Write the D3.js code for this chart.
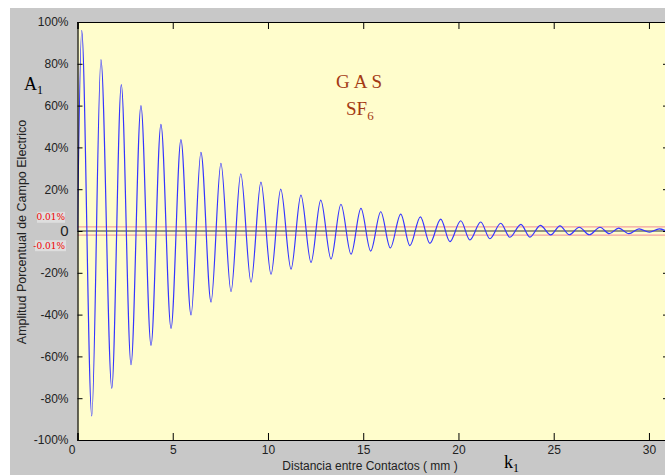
<!DOCTYPE html>
<html>
<head>
<meta charset="utf-8">
<script src="https://cdn.jsdelivr.net/npm/d3@7/dist/d3.min.js"></script>
<style>
  html, body { margin: 0; padding: 0; background: #ffffff; }
  svg { display: block; }
</style>
</head>
<body>
<svg id="chart" width="665" height="475"></svg>
<script>
// Successive crests and troughs of the field amplitude along the gap (mm, %)
const extremaMm = [0, 0.22, 0.75, 1.23, 1.80, 2.30, 2.81, 3.33, 3.86, 4.38, 4.91,
  5.43, 5.96, 6.48, 7.01, 7.53, 8.06, 8.57, 9.11, 9.63, 10.16,
  10.67, 11.21, 11.73, 12.26, 12.77, 13.31, 13.83, 14.36, 14.88, 15.39,
  15.92, 16.42, 16.97, 17.45, 18.00, 18.50, 19.07, 19.55, 20.12, 20.60,
  21.17, 21.65, 22.22, 22.70, 23.28, 23.75, 24.30, 24.84, 25.33, 25.82,
  26.34, 26.87, 27.43, 27.92, 28.41, 28.95, 29.48, 30.02, 30.54, 31.05];
const extremaPct = [0, 96, -88.5, 82, -75.3, 70, -64, 60, -54.7, 51, -46.6,
  43.7, -40.2, 37.6, -34, 32.4, -29, 27.4, -24.5, 23.4, -20.7,
  20, -18.2, 17.2, -15, 14.8, -13.4, 12.8, -11.1, 10.8, -9.6,
  9.2, -8.1, 8.1, -7, 6.8, -5.9, 5.7, -5.1, 4.9, -4.3,
  4.3, -3.7, 3.7, -3.0, 3.2, -2.9, 2.7, -1.9, 2.5, -1.8,
  1.8, -1.8, 1.8, -1.3, 1.4, -1.3, 1.0, -0.6, 1.0, -0.6];

// Axis ticks and labels
const xTicks = [0, 5, 10, 15, 20, 25, 30];
const yTicks = [100, 80, 60, 40, 20, 0, -20, -40, -60, -80, -100];
const yTickLabels = ["100%", "80%", "60%", "40%", "20%", "0", "-20%", "-40%", "-60%", "-80%", "-100%"];

// Tolerance band drawn around zero
const bandPct = [2, -2];
const bandLabels = ["0.01%", "-0.01%"];

const svg = d3.select("#chart");
const W = 665, H = 475;
const plot = { left: 77.5, top: 22, right: 668, bottom: 440 };

// Window background
svg.append("rect").attr("x", 10).attr("y", 8).attr("width", W - 10).attr("height", H - 8)
  .attr("fill", "#c8c8c8");

const x = d3.scaleLinear().domain([0, 31]).range([plot.left, plot.right]);
const y = d3.scaleLinear().domain([-100, 100]).range([plot.bottom, plot.top]);

svg.append("defs").append("clipPath").attr("id", "plotClip")
  .append("rect").attr("x", plot.left).attr("y", plot.top)
  .attr("width", plot.right - plot.left).attr("height", plot.bottom - plot.top);

// Plot area
svg.append("rect").attr("x", plot.left).attr("y", plot.top)
  .attr("width", plot.right - plot.left).attr("height", plot.bottom - plot.top)
  .attr("fill", "#fffdcc");

const inner = svg.append("g").attr("clip-path", "url(#plotClip)");

// Tolerance band lines
inner.selectAll("line.band").data(bandPct).join("line")
  .attr("class", "band")
  .attr("x1", plot.left).attr("x2", plot.right)
  .attr("y1", d => y(d)).attr("y2", d => y(d))
  .attr("stroke", "#f5a0a0").attr("stroke-width", 1.3);

// Zero line
inner.append("line")
  .attr("x1", plot.left).attr("x2", plot.right)
  .attr("y1", y(0)).attr("y2", y(0))
  .attr("stroke", "#333333").attr("stroke-width", 1.2);

// Damped oscillation
const pts = extremaMm.map((m, i) => [m, extremaPct[i]]);
const line = d3.line().x(d => x(d[0])).y(d => y(d[1])).curve(d3.curveMonotoneX);
inner.append("path").datum(pts)
  .attr("d", line)
  .attr("fill", "none")
  .attr("stroke", "#3535ff")
  .attr("stroke-width", 1.2);

// Axes with inward ticks
const font = "'Liberation Sans', Arial, sans-serif";

const gBottom = svg.append("g").attr("transform", `translate(0,${plot.bottom})`)
  .call(d3.axisBottom(x).tickValues(xTicks).tickSize(-7).tickPadding(5).tickFormat(d3.format("d")));
gBottom.selectAll("text").attr("font-family", font).attr("font-size", 12).attr("fill", "#222")
  .attr("dx", d => d === 0 ? -6 : 0);

const gTop = svg.append("g").attr("transform", `translate(0,${plot.top})`)
  .call(d3.axisTop(x).tickValues(xTicks).tickSize(-7).tickFormat(""));

const gLeft = svg.append("g").attr("transform", `translate(${plot.left},0)`)
  .call(d3.axisLeft(y).tickValues(yTicks).tickSize(-5).tickPadding(9)
    .tickFormat((d, i) => yTickLabels[i]));
gLeft.selectAll("text").attr("font-family", font).attr("fill", "#222")
  .attr("font-size", d => d === 0 ? 15 : 12);

const gRight = svg.append("g").attr("transform", `translate(${plot.right},0)`)
  .call(d3.axisRight(y).tickValues(yTicks).tickSize(-5).tickFormat(""));

[gBottom, gTop, gLeft, gRight].forEach(g => {
  g.select(".domain").attr("stroke", "#000").attr("stroke-width", 1.2);
  g.selectAll(".tick line").attr("stroke", "#000");
});

// Band labels
const bandG = svg.append("g");
bandG.selectAll("rect").data(bandPct).join("rect")
  .attr("x", (d, i) => i === 0 ? 37 : 35)
  .attr("y", d => y(d) + (d > 0 ? -15 : 5))
  .attr("width", (d, i) => i === 0 ? 28 : 31).attr("height", 11)
  .attr("fill", "#dedede");
bandG.selectAll("text").data(bandPct).join("text")
  .attr("x", 65)
  .attr("y", d => y(d) + (d > 0 ? -6.5 : 14))
  .attr("text-anchor", "end")
  .attr("font-family", "'DejaVu Serif', serif")
  .attr("font-size", 9)
  .attr("fill", "#f00000")
  .text((d, i) => bandLabels[i]);

// Axis titles
svg.append("text")
  .attr("x", 370).attr("y", 470)
  .attr("text-anchor", "middle")
  .attr("font-family", font).attr("font-size", 12).attr("fill", "#222")
  .text("Distancia entre Contactos ( mm )");

svg.append("text")
  .attr("transform", `translate(26,${232}) rotate(-90)`)
  .attr("text-anchor", "middle")
  .attr("font-family", font).attr("font-size", 12.5).attr("fill", "#222")
  .text("Amplitud Porcentual de Campo Electrico");

// Symbol labels
const serif = "'Liberation Serif', 'Times New Roman', serif";
const a1 = svg.append("text").attr("x", 24).attr("y", 90)
  .attr("font-family", serif).attr("font-size", 18).attr("fill", "#000");
a1.append("tspan").text("A");
a1.append("tspan").attr("font-size", 12).attr("dy", 4).text("1");

const k1 = svg.append("text").attr("x", 504).attr("y", 468)
  .attr("font-family", serif).attr("font-size", 18).attr("fill", "#000");
k1.append("tspan").text("k");
k1.append("tspan").attr("font-size", 12).attr("dy", 4).text("1");

// Gas annotation
svg.append("text").attr("x", 361).attr("y", 88)
  .attr("text-anchor", "middle")
  .attr("font-family", serif).attr("font-size", 19).attr("fill", "#a33a14")
  .attr("letter-spacing", 4)
  .text("GAS");
const sf = svg.append("text").attr("x", 346).attr("y", 115)
  .attr("font-family", serif).attr("font-size", 19).attr("fill", "#a33a14");
sf.append("tspan").text("SF");
sf.append("tspan").attr("font-size", 13).attr("dy", 5).text("6");
</script>
</body>
</html>
